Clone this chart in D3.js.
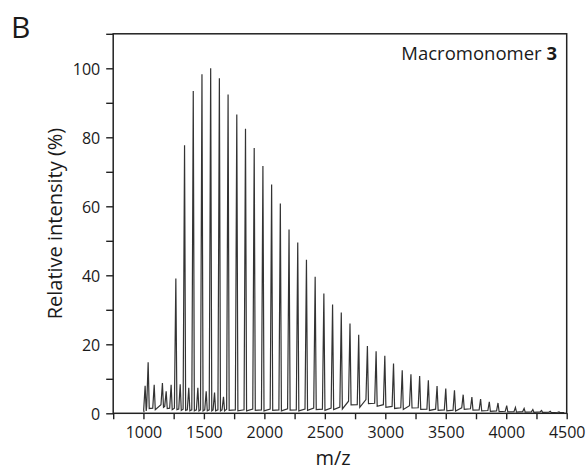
<!DOCTYPE html>
<html>
<head>
<meta charset="utf-8">
<script src="https://cdn.jsdelivr.net/npm/d3@7"></script>
<style>
  html, body { margin: 0; padding: 0; background: #fff; }
  svg { display: block; font-family: "Open Sans", "Noto Sans", sans-serif; }
</style>
</head>
<body>
<svg id="chart" width="588" height="471"></svg>
<script>
// ---- data ----
const mainMz = [1268, 1340, 1412, 1484, 1556, 1628, 1700, 1772, 1844, 1916,
                1988, 2060, 2132, 2204, 2276, 2348, 2420, 2492, 2564, 2636,
                2708, 2780, 2852, 2924, 2996, 3068, 3140, 3212, 3284, 3356,
                3428, 3500, 3572, 3644, 3716, 3788, 3860, 3932, 4004, 4076,
                4148, 4220, 4292, 4364, 4436];
const mainInt = [39.1, 77.7, 93.4, 98.3, 100, 97.1, 92.4, 86.6, 82.5, 76.9,
                 71.7, 66.3, 60.8, 53.3, 49.5, 44.5, 39.6, 34.7, 31.5, 29.2,
                 26.0, 22.8, 19.5, 18.0, 16.7, 14.4, 12.5, 11.3, 10.8, 9.6,
                 7.9, 7.2, 6.7, 5.4, 4.7, 4.1, 3.3, 3.0, 2.2, 1.7,
                 1.4, 1.1, 0.8, 0.6, 0.4];
const mainFoot = [1.5, 1.2, 1.0, 1.0, 1.0, 1.0, 1.2, 1.0, 1.0, 1.2,
                  1.0, 1.2, 1.0, 1.3, 1.0, 1.2, 1.5, 1.2, 1.5, 1.8,
                  3.5, 2.5, 4.0, 2.9, 2.5, 2.0, 1.6, 2.2, 1.6, 1.2,
                  1.2, 1.0, 0.9, 1.6, 1.3, 1.0, 0.8, 0.7, 0.6, 0.5,
                  0.5, 0.4, 0.4, 0.3, 0.3];
const minorMz   = [1014, 1039, 1089, 1157, 1188, 1229, 1304, 1375, 1450, 1519, 1588, 1662];
const minorInt  = [8.0, 14.8, 8.3, 8.8, 6.4, 8.3, 8.4, 7.4, 7.4, 6.4, 6.0, 4.8];
const minorFoot = [1.0, 2.0, 1.5, 2.5, 2.0, 1.5, 1.2, 1.0, 1.0, 1.0, 1.0, 1.0];

const xTickValues = [750, 1000, 1250, 1500, 1750, 2000, 2250, 2500, 2750, 3000,
                     3250, 3500, 3750, 4000, 4250, 4500];
const xTickLabels = ["1000", "1500", "2000", "2500", "3000", "3500", "4000", "4500"];
const yTickValues = [0, 10, 20, 30, 40, 50, 60, 70, 80, 90, 100, 110];
const yTickLabels = ["0", "20", "40", "60", "80", "100"];

const panelLabel = "B";
const legendText = "Macromonomer ";
const legendBold = "3";
const xTitle = "m/z";
const yTitle = "Relative intensity (%)";

// ---- layout ----
const L = 113.2, R = 566.7, T = 33.8, B = 413.3;
const svg = d3.select("#chart");
const x = d3.scaleLinear().domain([750, 4500]).range([L, R]);
const y = d3.scaleLinear().domain([0, 110]).range([B, T]);

// build spectrum trace
const peaks = [];
mainMz.forEach((m, i) => peaks.push({m, h: mainInt[i], f: mainFoot[i]}));
minorMz.forEach((m, i) => peaks.push({m, h: minorInt[i], f: minorFoot[i]}));
peaks.sort((a, b) => a.m - b.m);
const pts = [[1005, 0.3]];
peaks.forEach(p => {
  pts.push([p.m - 12, p.f]);
  pts.push([p.m, p.h]);
  pts.push([p.m + 9, p.f * 0.7]);
});
pts.push([4480, 0.2]);

const line = d3.line().x(d => x(d[0])).y(d => y(d[1]));
svg.append("path")
  .attr("d", line(pts))
  .attr("fill", "none")
  .attr("stroke", "#333")
  .attr("stroke-width", 1.2)
  .attr("stroke-linejoin", "miter");

// axes
const xAxis = d3.axisBottom(x).tickValues(xTickValues).tickSize(6)
  .tickFormat(d => xTickLabels.includes(String(d)) ? String(d) : "");
const yAxis = d3.axisLeft(y).tickValues(yTickValues).tickSize(7)
  .tickFormat(d => yTickLabels.includes(String(d)) ? String(d) : "");

const gx = svg.append("g").attr("transform", `translate(0,${B})`).call(xAxis);
const gy = svg.append("g").attr("transform", `translate(${L},0)`).call(yAxis);
[gx, gy].forEach(g => {
  g.select(".domain").remove();
  g.selectAll(".tick line").attr("stroke", "#222").attr("stroke-width", 1.4);
  g.selectAll(".tick text").attr("fill", "#1a1a1a")
    .attr("font-family", '"Open Sans", sans-serif').attr("font-size", 16);
});
gx.selectAll(".tick text").attr("dy", 0).attr("y", 24.5);
gy.selectAll(".tick text").attr("x", -13).attr("dy", "0.36em");

// frame
svg.append("rect")
  .attr("x", L).attr("y", T).attr("width", R - L).attr("height", B - T)
  .attr("fill", "none").attr("stroke", "#222").attr("stroke-width", 1.5);

// titles
svg.append("text").attr("x", 11).attr("y", 38)
  .attr("font-size", 30).attr("fill", "#1a1a1a").text(panelLabel);

const lg = svg.append("text").attr("x", 557).attr("y", 59.5)
  .attr("text-anchor", "end").attr("font-size", 18.5).attr("fill", "#1a1a1a");
lg.append("tspan").text(legendText);
lg.append("tspan").attr("font-weight", "bold").text(legendBold);

svg.append("text").attr("x", 333).attr("y", 464.5)
  .attr("text-anchor", "middle").attr("font-size", 20).attr("fill", "#1a1a1a").text(xTitle);

svg.append("text")
  .attr("transform", `translate(61.5,${(T + B) / 2}) rotate(-90)`)
  .attr("text-anchor", "middle").attr("font-size", 20).attr("fill", "#1a1a1a").text(yTitle);
</script>
</body>
</html>
